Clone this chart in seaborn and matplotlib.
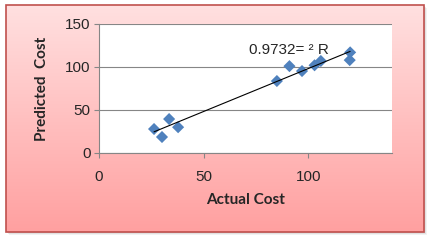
import numpy as np
import matplotlib
matplotlib.use("Agg")
import matplotlib.pyplot as plt
import seaborn as sns
from matplotlib.patches import Rectangle

# data
actual_cost = [26.3, 30.1, 33.5, 37.8, 85.0, 91.0, 97.0, 103.0, 106.0, 120.0, 119.8]
predicted_cost = [27.9, 18.6, 39.5, 30.0, 83.7, 101.0, 95.3, 102.0, 107.0, 117.0, 108.0]
x_ticks = [0, 50, 100]
y_ticks = [0, 50, 100, 150]
r2_label = "0.9732= \u00b2 R"

sns.set_theme(style="white")
plt.rcParams['font.family'] = ['Liberation Sans', 'DejaVu Sans']

fig = plt.figure(figsize=(4.32, 2.4), dpi=100)
fig.patch.set_facecolor("white")

# background frame with gradient (pixel coordinates)
bg = fig.add_axes([0, 0, 1, 1], zorder=0)
bg.set_xlim(0, 432)
bg.set_ylim(240, 0)
bg.axis("off")
for off, a in [(3, 0.10), (2, 0.15), (1, 0.2)]:
    bg.add_patch(Rectangle((6 + off, 5 + off), 418, 227, facecolor="#808080",
                           edgecolor="none", alpha=a))
top = np.array([255, 224, 224]) / 255
bot = np.array([255, 160, 160]) / 255
t = np.linspace(0, 1, 200)[:, None, None]
grad = top * (1 - t) + bot * t
bg.imshow(grad, extent=(6, 424, 232, 5), aspect="auto", zorder=1)
bg.add_patch(Rectangle((6, 5), 418, 227, facecolor="none", edgecolor="#C0504D",
                       linewidth=1.2, zorder=2))

ax = fig.add_axes([99 / 432, 1 - 153 / 240, 293 / 432, 129 / 240], zorder=1)
ax.set_facecolor("white")
sns.regplot(x=actual_cost, y=predicted_cost, ci=None, ax=ax, marker="D",
            scatter_kws={"s": 38, "color": "#4F81BD", "edgecolors": "none",
                         "alpha": 1, "zorder": 3},
            line_kws={"color": "black", "linewidth": 0.8, "zorder": 4})

ax.set_xlim(0, 140)
ax.set_ylim(0, 150)
ax.set_xticks(x_ticks)
ax.set_yticks(y_ticks)
ax.yaxis.grid(True, color="#868686", linewidth=0.8)
ax.set_axisbelow(True)
for s in ["top", "right"]:
    ax.spines[s].set_visible(False)
for s in ["left", "bottom"]:
    ax.spines[s].set_color("#868686")
    ax.spines[s].set_linewidth(0.8)
ax.tick_params(axis="x", direction="out", length=3.5, width=0.8, color="#868686",
               pad=8.5, labelsize=11, bottom=True)
ax.tick_params(axis="y", direction="out", length=3.5, width=0.8, color="#868686",
               pad=2.5, labelsize=11, left=True)

ax.set_xlabel("Actual Cost", fontsize=11, fontweight="bold", family="Lato", va="top")
ax.set_ylabel("Predicted  Cost", fontsize=11, fontweight="bold", family="Lato")
ax.xaxis.set_label_coords(0.5, -0.31)
ax.yaxis.set_label_coords(-0.17, 0.5)

ax.text(71.8, 119.8, r2_label, fontsize=11, va="center", ha="left", zorder=5)

fig.savefig("out.png", dpi=100, facecolor=fig.get_facecolor())
